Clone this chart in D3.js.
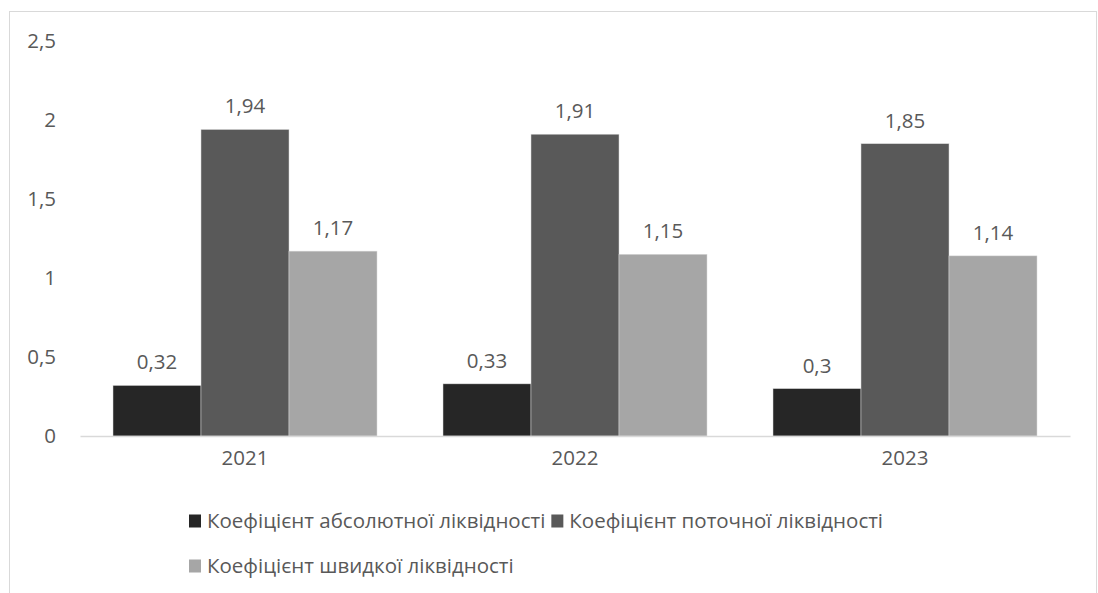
<!DOCTYPE html>
<html>
<head>
<meta charset="utf-8">
<script src="https://cdn.jsdelivr.net/npm/d3@7"></script>
<style>
  html, body { margin: 0; padding: 0; background: #fff; }
  svg text { font-family: "Open Sans", "Noto Sans", sans-serif; fill: #595959; }
</style>
</head>
<body>
<svg id="chart" width="1098" height="593"></svg>
<script>
// Liquidity ratios by year
const years = ["2021", "2022", "2023"];
const seriesNames = [
  "Коефіцієнт абсолютної ліквідності",
  "Коефіцієнт поточної ліквідності",
  "Коефіцієнт швидкої ліквідності"
];
const absoluteRatio = [0.32, 0.33, 0.3];
const currentRatio = [1.94, 1.91, 1.85];
const quickRatio = [1.17, 1.15, 1.14];
const yTicks = [0, 0.5, 1, 1.5, 2, 2.5];
const seriesColors = ["#262626", "#595959", "#a6a6a6"];

const seriesValues = [absoluteRatio, currentRatio, quickRatio];
const fmt = v => String(v).replace(".", ",");

const svg = d3.select("#chart");
const W = 1098, H = 593;
const margin = { left: 80, right: 28, top: 41, bottom: 157 };
const plotW = W - margin.left - margin.right;
const plotH = H - margin.top - margin.bottom;
const fontSize = 20.5;

// outer chart frame
svg.append("rect")
  .attr("x", 9.5).attr("y", 11.5)
  .attr("width", 1087).attr("height", 600)
  .attr("fill", "#fff").attr("stroke", "#d9d9d9").attr("stroke-width", 1);

const g = svg.append("g").attr("transform", `translate(${margin.left},${margin.top})`);

const x0 = d3.scaleBand().domain(years).range([0, plotW]).paddingInner(0.2).paddingOuter(0.1);
const x1 = d3.scaleBand().domain(d3.range(seriesNames.length)).range([0, x0.bandwidth()]).padding(0);
const y = d3.scaleLinear().domain([0, 2.5]).range([plotH, 0]);

// y axis labels
const yAxis = d3.axisLeft(y).tickValues(yTicks).tickFormat(fmt).tickSize(0).tickPadding(24);
const yg = g.append("g").call(yAxis);
yg.select(".domain").remove();
yg.selectAll("text").style("font-size", fontSize + "px").attr("fill", "#595959");

// bars
const groups = g.selectAll(".year").data(years).join("g")
  .attr("class", "year")
  .attr("transform", d => `translate(${x0(d)},0)`);

groups.selectAll("rect")
  .data((d, i) => seriesValues.map((vals, s) => ({ s, v: vals[i] })))
  .join("rect")
  .attr("x", d => x1(d.s))
  .attr("y", d => y(d.v))
  .attr("width", x1.bandwidth())
  .attr("height", d => y(0) - y(d.v))
  .attr("fill", d => seriesColors[d.s])
  .attr("stroke", "#d9d9d9")
  .attr("stroke-width", 0.5);

// value labels
groups.selectAll("text.val")
  .data((d, i) => seriesValues.map((vals, s) => ({ s, v: vals[i] })))
  .join("text")
  .attr("class", "val")
  .attr("x", d => x1(d.s) + x1.bandwidth() / 2)
  .attr("y", d => y(d.v) - 16)
  .attr("text-anchor", "middle")
  .style("font-size", fontSize + "px")
  .text(d => fmt(d.v));

// x axis
const xAxis = d3.axisBottom(x0).tickSize(0).tickPadding(14);
const xg = g.append("g").attr("transform", `translate(0,${plotH})`).call(xAxis);
xg.select(".domain").attr("stroke", "#d9d9d9").attr("stroke-width", 1.5);
xg.selectAll("text").style("font-size", fontSize + "px").attr("fill", "#595959");

// legend, flowing left to right and wrapping onto a second row
const legend = svg.append("g");
const legStartX = 189, legMaxX = 920, rowY = [521, 566];
let lx = legStartX, row = 0;
seriesNames.forEach((name, i) => {
  const item = legend.append("g");
  item.append("rect").attr("width", 12).attr("height", 13).attr("fill", seriesColors[i]);
  const t = item.append("text").attr("x", 18).attr("y", 6.5).attr("dy", "0.35em")
    .style("font-size", fontSize + "px").text(name);
  const w = 18 + t.node().getComputedTextLength();
  if (lx + w > legMaxX) { row += 1; lx = legStartX; }
  item.attr("transform", `translate(${lx},${rowY[row] - 6.5})`);
  lx += w + 6;
});
</script>
</body>
</html>
